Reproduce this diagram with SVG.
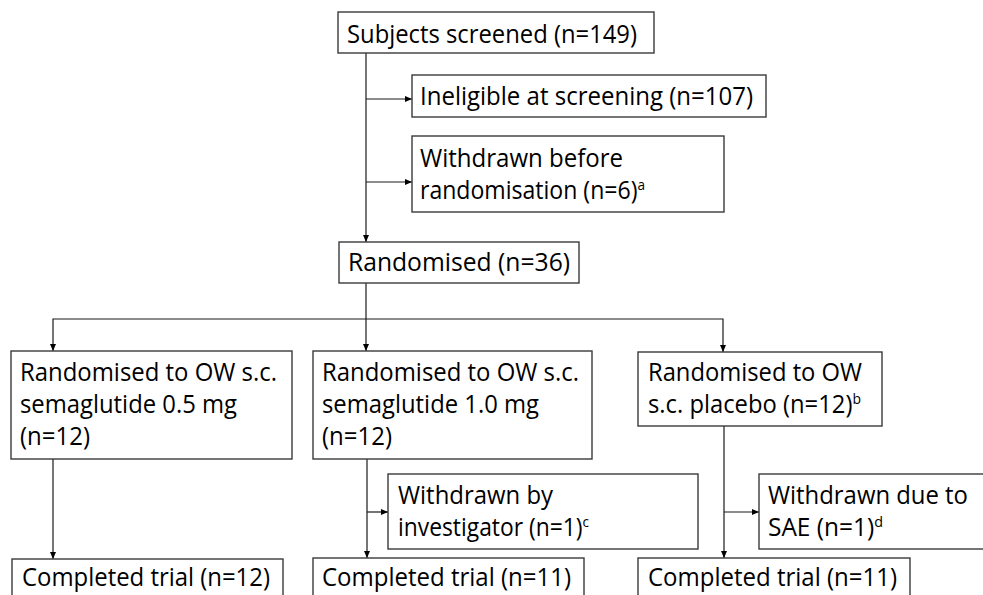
<svg xmlns="http://www.w3.org/2000/svg" width="983" height="595" viewBox="0 0 983 595">
<defs>
<marker id="arr" markerUnits="userSpaceOnUse" markerWidth="7" markerHeight="6" refX="7" refY="3" orient="auto">
<path d="M0,0 L7,3 L0,6 z" fill="#000"/>
</marker>
<style>
rect{fill:#fff;stroke:#3a3a3a;stroke-width:1.4}
text{font-family:"Open Sans","Noto Sans","Liberation Sans",sans-serif;font-size:25.5px;fill:#000}
.sup{font-size:15px}
#connectors path{fill:none;stroke:#1a1a1a;stroke-width:1.2}
.a{marker-end:url(#arr)}
</style>
</defs>
<rect x="0" y="0" width="983" height="595" style="fill:#fff;stroke:none"/>
<g id="connectors">
<path class="a" d="M366,53 V242"/>
<path class="a" d="M366,99 H412"/>
<path class="a" d="M366,182 H412"/>
<path class="a" d="M366,283 V351"/>
<path class="a" d="M366,319 H53 V351"/>
<path class="a" d="M366,319 H723 V352"/>
<path class="a" d="M53,459 V559"/>
<path class="a" d="M367,459 V558"/>
<path class="a" d="M367,512 H388"/>
<path class="a" d="M724,426 V558"/>
<path class="a" d="M724,512 H759"/>
</g>
<g id="screened">
<rect x="338" y="12" width="316" height="41"/>
<text x="347" y="43" textLength="290" lengthAdjust="spacingAndGlyphs">Subjects screened (n=149)</text>
</g>
<g id="ineligible">
<rect x="412" y="75" width="354" height="42"/>
<text x="420" y="105" textLength="333" lengthAdjust="spacingAndGlyphs">Ineligible at screening (n=107)</text>
</g>
<g id="withdrawn-before">
<rect x="412" y="136" width="312" height="76"/>
<text x="420" y="167" textLength="203" lengthAdjust="spacingAndGlyphs">Withdrawn before</text>
<text x="420" y="199" textLength="225" lengthAdjust="spacingAndGlyphs">randomisation (n=6)<tspan class="sup" baseline-shift="9">a</tspan></text>
</g>
<g id="randomised">
<rect x="339" y="242" width="240" height="41"/>
<text x="348" y="271" textLength="222" lengthAdjust="spacingAndGlyphs">Randomised (n=36)</text>
</g>
<g id="arm-05">
<rect x="11" y="351" width="281" height="108"/>
<text x="20" y="381" textLength="257" lengthAdjust="spacingAndGlyphs">Randomised to OW s.c.</text>
<text x="20" y="413" textLength="217" lengthAdjust="spacingAndGlyphs">semaglutide 0.5 mg</text>
<text x="20" y="445" textLength="70" lengthAdjust="spacingAndGlyphs">(n=12)</text>
</g>
<g id="arm-10">
<rect x="313" y="351" width="279" height="108"/>
<text x="322" y="381" textLength="257" lengthAdjust="spacingAndGlyphs">Randomised to OW s.c.</text>
<text x="322" y="413" textLength="217" lengthAdjust="spacingAndGlyphs">semaglutide 1.0 mg</text>
<text x="322" y="445" textLength="70" lengthAdjust="spacingAndGlyphs">(n=12)</text>
</g>
<g id="arm-placebo">
<rect x="638" y="352" width="244" height="74"/>
<text x="648" y="381" textLength="214" lengthAdjust="spacingAndGlyphs">Randomised to OW</text>
<text x="648" y="413" textLength="213" lengthAdjust="spacingAndGlyphs">s.c. placebo (n=12)<tspan class="sup" baseline-shift="9">b</tspan></text>
</g>
<g id="withdrawn-investigator">
<rect x="388" y="474" width="310" height="75"/>
<text x="398" y="504" textLength="155" lengthAdjust="spacingAndGlyphs">Withdrawn by</text>
<text x="398" y="536" textLength="191" lengthAdjust="spacingAndGlyphs">investigator (n=1)<tspan class="sup" baseline-shift="9">c</tspan></text>
</g>
<g id="withdrawn-sae">
<rect x="759" y="474" width="240" height="75"/>
<text x="768" y="504" textLength="200" lengthAdjust="spacingAndGlyphs">Withdrawn due to</text>
<text x="768" y="536" textLength="115" lengthAdjust="spacingAndGlyphs">SAE (n=1)<tspan class="sup" baseline-shift="9">d</tspan></text>
</g>
<g id="completed-05">
<rect x="12" y="559" width="271" height="60"/>
<text x="22" y="586" textLength="248" lengthAdjust="spacingAndGlyphs">Completed trial (n=12)</text>
</g>
<g id="completed-10">
<rect x="313" y="558" width="271" height="60"/>
<text x="322" y="586" textLength="249" lengthAdjust="spacingAndGlyphs">Completed trial (n=11)</text>
</g>
<g id="completed-placebo">
<rect x="638" y="558" width="272" height="60"/>
<text x="648" y="586" textLength="249" lengthAdjust="spacingAndGlyphs">Completed trial (n=11)</text>
</g>
</svg>
